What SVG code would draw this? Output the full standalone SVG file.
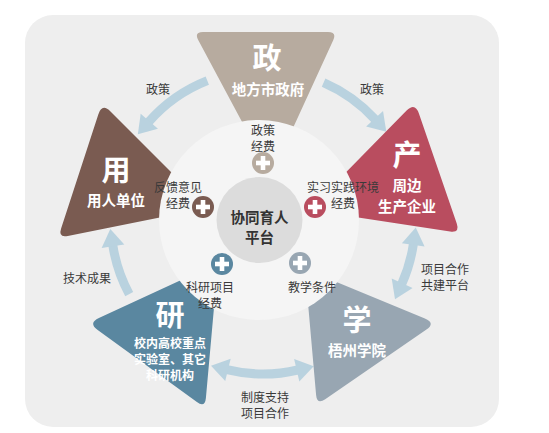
<svg xmlns="http://www.w3.org/2000/svg" xmlns:xlink="http://www.w3.org/1999/xlink" width="549" height="433" viewBox="0 0 549 433">
<style>
text{font-family:"Noto Sans CJK SC","Noto Sans",sans-serif;text-anchor:middle;dominant-baseline:central}
.big{font-size:29px;font-weight:700;fill:#fff}
.sub{font-size:14.5px;font-weight:700;fill:#fff}
.sub2{font-size:12px;font-weight:700;fill:#fff}
.lbl{font-size:12px;fill:#3a3a3a}
.hub{font-size:14.5px;font-weight:700;fill:#333}
.arr{fill:none;stroke:#b9d2df;stroke-width:9}
</style>
<defs>
<marker id="ah" markerUnits="userSpaceOnUse" markerWidth="20" markerHeight="24" viewBox="0 -11 17 22" refX="1" refY="0" orient="auto-start-reverse">
<path d="M0,-10.5 L16,0 L0,10.5 Z" fill="#b9d2df"/>
</marker>
<g id="cross"><rect x="-7" y="-2.3" width="14" height="4.6" fill="#fff"/><rect x="-2.3" y="-7" width="4.6" height="14" fill="#fff"/></g>
</defs>
<rect x="25" y="15" width="474" height="412" rx="28" fill="#eeeeee"/>

<g id="connectors">
<path class="arr" d="M207.3,80.6 A152,152 0 0 0 148.6,122" marker-end="url(#ah)"/>
<path class="arr" d="M323.6,82.6 A152,152 0 0 1 375.3,119.6" marker-end="url(#ah)"/>
<path class="arr" d="M413.4,243.8 A152,152 0 0 1 401.7,284.2" marker-start="url(#ah)" marker-end="url(#ah)"/>
<path class="arr" d="M226.9,369.6 A152,152 0 0 0 297.8,370" marker-start="url(#ah)" marker-end="url(#ah)"/>
<path class="arr" d="M129.2,294.1 A152,152 0 0 1 112.8,245.1" marker-end="url(#ah)"/>
<text class="lbl" x="158" y="88">政策</text>
<text class="lbl" x="372" y="88">政策</text>
<text class="lbl" x="87" y="277">技术成果</text>
<text class="lbl" x="445" y="268">项目合作</text>
<text class="lbl" x="445" y="284">共建平台</text>
<text class="lbl" x="265" y="396">制度支持</text>
<text class="lbl" x="265" y="412">项目合作</text>
</g>

<g id="zheng">
<path d="M271,176 L198.2,39.9 Q194,32 203,32 L328,32 Q337,32 333.2,40.2 Z" fill="#b7ab9f"/>
<text class="big" x="267" y="56">政</text>
<text class="sub" x="268" y="88">地方市政府</text>
</g>
<g id="yong">
<path d="M207,208 L110.5,111.5 Q102,103 98.3,114.4 L61.1,228.5 Q58,238 67.8,236 Z" fill="#7a5b51"/>
<text class="big" x="116" y="168">用</text>
<text class="sub" x="116" y="199">用人单位</text>
</g>
<g id="chan">
<path d="M309,210 L406.6,110.6 Q415,102 418.9,113.4 L456.75,223.5 Q460,233 450.1,231.5 Z" fill="#b94d5f"/>
<text class="big" x="407" y="153">产</text>
<text class="sub" x="407" y="184">周边</text>
<text class="sub" x="407" y="205">生产企业</text>
</g>
<g id="xue">
<path d="M305,269 L424.9,318.4 Q436,323 426.1,329.8 L325.2,399.3 Q317,405 316.1,395 Z" fill="#98a6b2"/>
<text class="big" x="357" y="318">学</text>
<text class="sub" x="357" y="349">梧州学院</text>
</g>
<g id="yan">
<path d="M218,263 L98.9,318 Q88,323 97.7,330.1 L196.9,402.1 Q205,408 205.9,398 Z" fill="#5a87a0"/>
<text class="big" x="170" y="313">研</text>
<text class="sub2" x="170" y="342">校内高校重点</text>
<text class="sub2" x="170" y="358">实验室、其它</text>
<text class="sub2" x="170" y="374">科研机构</text>
</g>

<g id="platform">
<circle cx="259" cy="220" r="100" fill="#f5f5f5"/>
<circle cx="259.5" cy="220" r="43" fill="#dcdcdc"/>
<text class="hub" x="259.5" y="216">协同育人</text>
<text class="hub" x="259.5" y="236">平台</text>
</g>

<g id="plus-policy">
<text class="lbl" x="263" y="129">政策</text>
<text class="lbl" x="263" y="145">经费</text>
<circle cx="263" cy="163" r="11" fill="#b7ab9f"/><use xlink:href="#cross" x="263" y="163"/>
</g>
<g id="plus-feedback">
<text class="lbl" x="178" y="186">反馈意见</text>
<text class="lbl" x="178" y="202">经费</text>
<circle cx="203" cy="207" r="11" fill="#7a5b51"/><use xlink:href="#cross" x="203" y="207"/>
</g>
<g id="plus-practice">
<text class="lbl" x="343" y="186">实习实践环境</text>
<text class="lbl" x="343" y="202">经费</text>
<circle cx="315" cy="207" r="11" fill="#b94d5f"/><use xlink:href="#cross" x="315" y="207"/>
</g>
<g id="plus-research">
<circle cx="222" cy="264" r="11" fill="#5a87a0"/><use xlink:href="#cross" x="222" y="264"/>
<text class="lbl" x="210" y="286">科研项目</text>
<text class="lbl" x="210" y="302">经费</text>
</g>
<g id="plus-teaching">
<circle cx="300" cy="263" r="11" fill="#98a6b2"/><use xlink:href="#cross" x="300" y="263"/>
<text class="lbl" x="312" y="286">教学条件</text>
</g>
</svg>
